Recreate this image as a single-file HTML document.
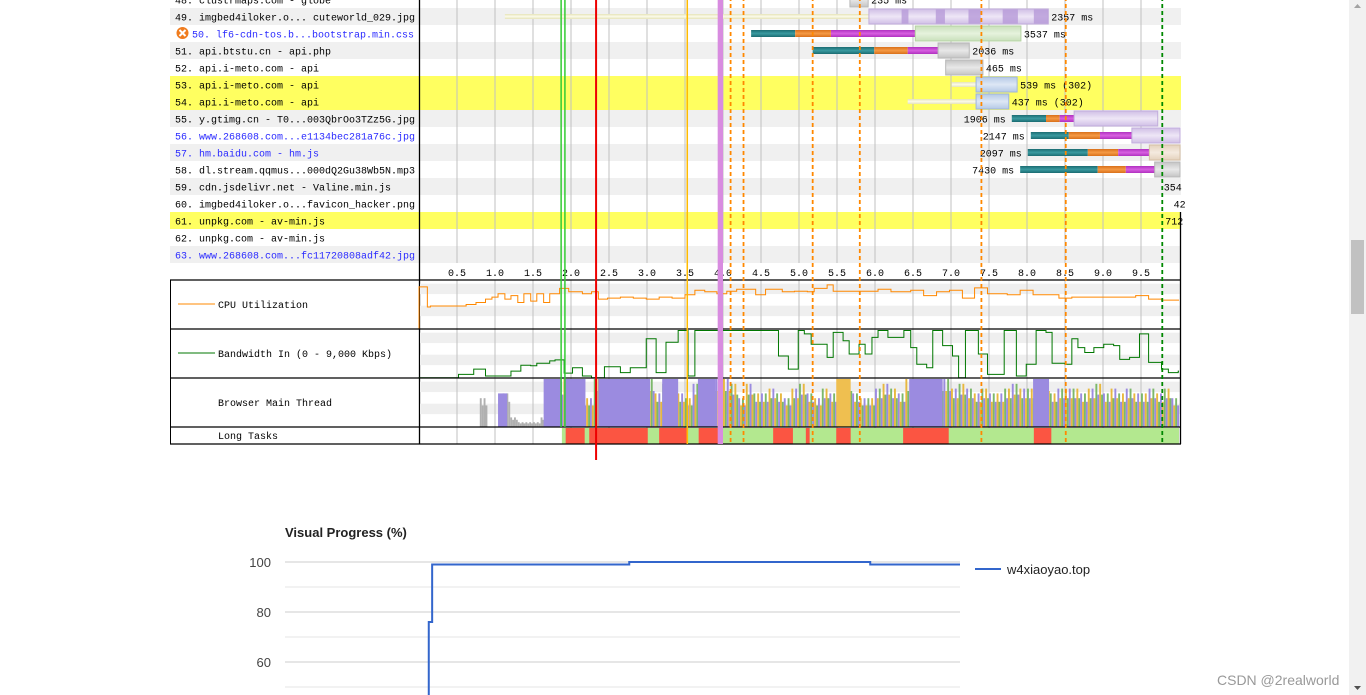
<!DOCTYPE html>
<html><head><meta charset="utf-8">
<style>
html,body{margin:0;padding:0;width:1366px;height:695px;overflow:hidden;background:#fff;}
svg{display:block;}
.wf{font-family:"Liberation Mono",monospace;font-size:10px;}
</style></head>
<body>
<svg id="root" width="1366" height="695" viewBox="0 0 1366 695">
  <g id="wf" class="wf"></g>
  <g id="vp"></g>
  <g>
    <rect x="1349" y="0" width="17" height="695" fill="#f1f1f1"/>
    <rect x="1351" y="240" width="13" height="74" fill="#c1c1c1"/>
    <path d="M1354 8 L1357.5 4 L1361 8 Z" fill="#a3a3a3"/>
    <path d="M1354 686 L1357.5 690 L1361 686 Z" fill="#505050"/>
  </g>
  <text x="1217" y="685" font-family="Liberation Sans, sans-serif" font-size="14" fill="#999">CSDN @2realworld</text>
</svg>
<script>
// ---------- waterfall data ----------
const reqLabels = ["48. clustrmaps.com - globe","49. imgbed4iloker.o... cuteworld_029.jpg","50. lf6-cdn-tos.b...bootstrap.min.css","51. api.btstu.cn - api.php","52. api.i-meto.com - api","53. api.i-meto.com - api","54. api.i-meto.com - api","55. y.gtimg.cn - T0...003QbrOo3TZz5G.jpg","56. www.268608.com...e1134bec281a76c.jpg","57. hm.baidu.com - hm.js","58. dl.stream.qqmus...000dQ2Gu38Wb5N.mp3","59. cdn.jsdelivr.net - Valine.min.js","60. imgbed4iloker.o...favicon_hacker.png","61. unpkg.com - av-min.js","62. unpkg.com - av-min.js","63. www.268608.com...fc11720808adf42.jpg"];
const reqBlue = [0,0,1,0,0,0,0,0,1,1,0,0,0,0,0,1];
const reqYellow = [0,0,0,0,0,1,1,0,0,0,0,0,0,1,0,0];
const reqWait = [null,[1.13,5.92],null,null,null,[7.01,7.33],[6.43,7.33],null,null,null,null,null,null,null,null,null];
const reqDns = [null,null,[4.37,4.95],[5.18,5.99],null,null,null,[7.80,8.25],[8.05,8.55],[8.01,8.80],[7.91,8.93],null,null,null,null,null];
const reqConn = [null,null,[4.95,5.42],[5.99,6.43],null,null,null,[8.25,8.43],[8.55,8.96],[8.80,9.20],[8.93,9.30],null,null,null,null,null];
const reqSsl = [null,null,[5.42,6.53],[6.43,6.83],null,null,null,[8.43,8.62],[8.96,9.38],[9.20,9.61],[9.30,9.68],null,null,null,null,null];
const reqContent = [[5.67,5.91],[5.92,8.28],[6.53,7.92],[6.83,7.24],[6.93,7.42],[7.33,7.87],[7.33,7.76],[8.62,9.72],[9.38,10.2],[9.61,10.2],[9.68,10.2],null,null,null,null,null];
const reqKind = ["gray","purple","green","gray","gray","blue","blue","purple","purple","beige","gray","","","","",""];
const reqMs = ["235 ms","2357 ms","3537 ms","2036 ms","465 ms","539 ms (302)","437 ms (302)","1906 ms","2147 ms","2097 ms","7430 ms","354","42","712","",""];
const reqMsSide = ["r","r","r","r","r","r","r","l","l","l","l","r","r","r","",""];
const reqMsAt = [5.91,8.28,7.92,7.24,7.42,7.87,7.76,7.80,8.05,8.01,7.91,9.76,9.89,9.78,0,0];
const chunks49 = [[6.35,6.44],[6.80,6.92],[7.23,7.39],[7.68,7.88],[8.09,8.28]];
const axisTicks = ["0.5","1.0","1.5","2.0","2.5","3.0","3.5","4.0","4.5","5.0","5.5","6.0","6.5","7.0","7.5","8.0","8.5","9.0","9.5"];
const markSolid = [[1.87,"#3c3"],[1.92,"#3c3"],[3.53,"#fb0"]];
const markDashed = [[4.10,"#f80"],[4.27,"#f80"],[5.18,"#f80"],[5.80,"#f80"],[7.40,"#f80"],[8.51,"#f80"],[9.78,"#080"]];
const markStartRender = 2.33;
const domLoading = [3.93,4.0];
const cpuT = [0,0.11,0.15,0.35,0.62,0.75,0.875,0.96,1.04,1.13,1.21,1.30,1.38,1.47,1.55,1.64,1.72,1.85,1.97,2.15,2.27,2.36,2.48,2.65,2.82,2.99,3.16,3.33,3.50,3.63,3.76,3.92,4.05,4.18,4.43,4.56,4.78,4.94,5.11,5.20,5.37,5.45,6.04,6.21,6.47,6.64,6.81,6.98,7.15,7.31,7.48,7.74,7.91,8.08,8.42,8.59,8.93,9.43,9.60,9.77,9.93];
const cpuV = [86,45,47,47,50,54,61,65,72,61,68,54,72,57,72,54,72,83,76,72,76,61,63,65,63,61,65,63,70,79,76,72,77,81,70,81,76,77,76,83,90,77,81,76,79,68,76,79,63,84,72,70,79,70,63,65,65,68,61,59,59];
const bwT = [0,0.52,0.72,0.875,1.04,1.21,1.34,1.47,1.55,1.72,1.79,1.91,2.02,2.15,2.27,2.44,2.65,2.78,2.99,3.12,3.25,3.41,3.54,3.63,4.73,4.86,4.99,5.07,5.16,5.37,5.45,5.58,5.66,5.79,5.87,5.96,6.04,6.17,6.38,6.47,6.55,6.68,6.76,6.89,7.02,7.10,7.19,7.36,7.48,7.70,7.86,7.99,8.12,8.25,8.33,8.50,8.59,8.67,8.76,8.88,9.01,9.14,9.22,9.35,9.48,9.60,9.77,9.86,9.99];
const bwV = [0.6,7.5,18,4,4,14,26,25,30,35,37,10,21,4,0.6,23,11,21,80,11,73,97,4,97,45,18,97,90,69,42,93,76,49,69,49,83,97,83,97,62,28,21,97,66,45,0.6,97,49,7.5,97,4,28,97,93,30,28,80,62,52,62,69,66,38,42,90,32,18,11,14];
const mtLevel = [0,0,0,0,0,0,0,0,60,0,0,70,20,10,10,10,20,50,90,100,100,60,60,100,100,100,100,100,100,100,100,70,90,90,70,60,90,100,100,100,100,90,60,90,70,70,80,70,60,80,90,70,60,80,70,100,100,70,60,60,80,90,80,70,100,100,100,100,100,100,80,90,80,70,80,70,70,80,90,80,80,100,100,70,80,80,80,70,80,90,70,80,70,80,70,70,80,70,80,60];
const mtScript = [[1.04,1.16,70],[1.64,1.88,100],[1.91,2.19,100],[2.36,3.04,100],[3.20,3.41,100],[3.67,3.90,100],[6.47,6.89,100],[8.08,8.29,100]];
const mtLayout = [[5.49,5.68,100]];
const longTaskSpan = [1.88,10];
const longTasks = [[1.93,2.18],[2.24,3.01],[3.16,3.54],[3.68,3.97],[4.66,4.92],[5.09,5.14],[5.49,5.68],[6.37,6.97],[8.09,8.32]];
const vpT = [0,2.13,2.13,2.18,2.18,5.1,5.1,8.67,8.67,10];
const vpV = [0,0,76,76,99,99,100,100,99,99];
const vpTicks = [100,90,80,70,60,50];
const vpTickLabels = ["100","","80","","60",""];

const NS = "http://www.w3.org/2000/svg";
function el(tag, attrs, parent, text){const e=document.createElementNS(NS,tag);for(const k in attrs)e.setAttribute(k,attrs[k]);if(text!==undefined)e.textContent=text;parent.appendChild(e);return e;}
const X = t => 419 + 76*t;
const rowTop = i => -9 + 17*i;
const wf = document.getElementById('wf');

const defs = el('defs',{},wf);
function grad(id,c1,c2){const g=el('linearGradient',{id:id,x1:0,y1:0,x2:0,y2:1},defs);el('stop',{offset:'0',"stop-color":c1},g);el('stop',{offset:'0.5',"stop-color":c2},g);el('stop',{offset:'1',"stop-color":c1},g);}
grad('gTeal','#1b6c72','#3a9aa0');grad('gOrange','#d9701a','#f59a45');grad('gMag','#b030c0','#d860e0');
grad('gGray','#c4c4c4','#e8e8e8');grad('gPurple','#d0bfe6','#eee6f6');grad('gGreen','#c9e0bb','#e6f2dd');
grad('gBlue','#b5c9e6','#dde7f5');grad('gBeige','#e4d2bd','#f4eadf');grad('gWait','#e6e3b8','#fbfaea');
const contentFill={gray:'url(#gGray)',purple:'url(#gPurple)',green:'url(#gGreen)',blue:'url(#gBlue)',beige:'url(#gBeige)'};
const contentStroke={gray:'#b8b8b8',purple:'#c2addc',green:'#b5d3a3',blue:'#9fb6da',beige:'#d6c0a6'};

reqLabels.forEach((lab,i)=>{
  const y=rowTop(i);
  const bg = reqYellow[i] ? '#ffff60' : (i%2===1 ? '#f0f0f0' : '#ffffff');
  const r=el('rect',{x:170,y:y,width:1011,height:17,fill:bg},wf);
  
  
});
axisTicks.forEach((lab,k)=>{
  const x=X(0.5*(k+1));
  el('line',{x1:x,y1:-10,x2:x,y2:263,stroke:'#c0c0c0','stroke-width':1},wf);
  const t=el('text',{x:x,y:276,'text-anchor':'middle',fill:'#000'},wf,lab);
  
  
});
reqLabels.forEach((lab,i)=>{
  const y=rowTop(i)+12.5;
  const tx = (i===2)?192:175;
  const t=el('text',{x:tx,y:y,fill:reqBlue[i]?'#2a2aff':'#000'},wf,lab);
  
  
  const avail=415-tx;
  if(t.getComputedTextLength()>avail){t.setAttribute('textLength',avail);t.setAttribute('lengthAdjust','spacingAndGlyphs');}
});
const ic=el('g',{},wf);


el('circle',{cx:182.5,cy:33,r:6,fill:'#f07c1e'},ic);
el('path',{d:'M179.5 30 L185.5 36 M185.5 30 L179.5 36',stroke:'#fff','stroke-width':2},ic);
el('line',{x1:419.5,y1:-10,x2:419.5,y2:444,stroke:'#000','stroke-width':1.3},wf);

reqLabels.forEach((lab,i)=>{
  const cy=rowTop(i)+8.5;
  const g=el('g',{},wf);
  
  
  if(reqWait[i]) el('rect',{x:X(reqWait[i][0]),y:cy-2.5,width:X(reqWait[i][1])-X(reqWait[i][0]),height:5,fill:'url(#gWait)'},g);
  [[reqDns,'url(#gTeal)'],[reqConn,'url(#gOrange)'],[reqSsl,'url(#gMag)']].forEach(([arr,f])=>{
    if(arr[i]) el('rect',{x:X(arr[i][0]),y:cy-3.5,width:X(arr[i][1])-X(arr[i][0]),height:7,fill:f},g);
  });
  if(reqContent[i]){
    const x0=X(reqContent[i][0]), x1=Math.min(X(reqContent[i][1]),1180);
    el('rect',{x:x0,y:cy-7.5,width:x1-x0,height:15,fill:contentFill[reqKind[i]],stroke:contentStroke[reqKind[i]],'stroke-width':1},g);
    if(i===1) chunks49.forEach(c=>el('rect',{x:X(c[0]),y:cy-7,width:X(c[1])-X(c[0]),height:14,fill:'#b79ad8',opacity:0.8},g));
  }
  if(reqMs[i]){
    const side=reqMsSide[i];
    el('text',{x:side==='r'?X(reqMsAt[i])+3:X(reqMsAt[i])-6,y:cy+4,'text-anchor':side==='r'?'start':'end',fill:'#000'},g,reqMs[i]);
  }
});

[[280,329],[329,378],[378,427]].forEach(([a,b])=>{
  const h=(b-a)/4;
  el('rect',{x:420,y:a+h*0.3,width:760,height:h*0.85,fill:'#efefef'},wf);
  el('rect',{x:420,y:a+h*2.1,width:760,height:h*0.85,fill:'#efefef'},wf);
});
axisTicks.forEach((lab,k)=>{const x=X(0.5*(k+1));el('line',{x1:x,y1:280,x2:x,y2:444,stroke:'#c0c0c0','stroke-width':1},wf);});

function stepPath(T,V,y0,h){let d='';T.forEach((t,k)=>{const x=X(Math.min(t,10));const y=y0-V[k]/100*h;if(k===0)d+='M'+X(0)+' '+y0+' L'+x+' '+y;else d+=' L'+x+' '+(y0-V[k-1]/100*h)+' L'+x+' '+y;});d+=' L'+X(10)+' '+(y0-V[V.length-1]/100*h);return d;}
const cpu=el('path',{d:stepPath(cpuT,cpuV,329,49),fill:'none',stroke:'#f80','stroke-width':1},wf);


const bw=el('path',{d:stepPath(bwT,bwV,378,49),fill:'none',stroke:'#070','stroke-width':1},wf);


el('line',{x1:178,y1:304,x2:215,y2:304,stroke:'#f80','stroke-width':1},wf);
const l1=el('text',{x:218,y:308},wf,'CPU Utilization');


el('line',{x1:178,y1:353,x2:215,y2:353,stroke:'#070','stroke-width':1},wf);
const l2=el('text',{x:218,y:357},wf,'Bandwidth In (0 - 9,000 Kbps)');


const l3=el('text',{x:218,y:406},wf,'Browser Main Thread');


const l4=el('text',{x:218,y:439},wf,'Long Tasks');



const mt=el('g',{},wf);


const mcol=['#9b8be0','#e8b840','#7cb86a','#b0b0b0'];
mtLevel.forEach((lv,k)=>{
  if(!lv) return;
  for(let s=0;s<4;s++){
    const t=k*0.1+s*0.025;
    const h=lv/100*48*(s%2?0.75:1);
    const c = k<17 ? '#b0b0b0' : mcol[(k+s)%3];
    el('rect',{x:X(t),y:427-h,width:76*0.025,height:h,fill:c},mt);
  }
});
mtScript.forEach(s=>el('rect',{x:X(s[0]),y:427-s[2]/100*48,width:X(s[1])-X(s[0]),height:s[2]/100*48,fill:'#9b8be0'},mt));
mtLayout.forEach(s=>el('rect',{x:X(s[0]),y:427-s[2]/100*48,width:X(s[1])-X(s[0]),height:s[2]/100*48,fill:'#efbf50'},mt));
const lt=el('g',{},wf);


el('rect',{x:X(longTaskSpan[0]),y:428,width:X(longTaskSpan[1])-X(longTaskSpan[0]),height:16,fill:'#b3e88f'},lt);
longTasks.forEach(s=>el('rect',{x:X(s[0]),y:428,width:X(s[1])-X(s[0]),height:16,fill:'#fb5542'},lt));

[280,329,378,427,444].forEach(y=>el('line',{x1:170,y1:y,x2:1181,y2:y,stroke:'#000','stroke-width':1.3},wf));
el('line',{x1:170.5,y1:280,x2:170.5,y2:444,stroke:'#000','stroke-width':1},wf);
el('line',{x1:1180.5,y1:212,x2:1180.5,y2:444,stroke:'#000','stroke-width':1.3},wf);

el('rect',{x:X(domLoading[0]),y:-10,width:X(domLoading[1])-X(domLoading[0]),height:454,fill:'#d88ce0'},wf);
markSolid.forEach(m=>{const l=el('line',{x1:X(m[0]),y1:-10,x2:X(m[0]),y2:m[1]==='#3c3'?427:444,stroke:m[1],'stroke-width':1.5},wf);});
markDashed.forEach(m=>{const l=el('line',{x1:X(m[0]),y1:-10,x2:X(m[0]),y2:444,stroke:m[1],'stroke-width':1.8,'stroke-dasharray':'4,3'},wf);});
const sr=el('line',{x1:X(markStartRender),y1:-10,x2:X(markStartRender),y2:460,stroke:'#e00','stroke-width':2},wf);



// ---------- Visual progress ----------
const vp=document.getElementById('vp');
const VX=t=>285+67.5*t;
const vy=v=>562+(100-v)*2.5;
const tt=el('text',{x:285,y:537,'font-family':'Liberation Sans, sans-serif','font-size':13,'font-weight':'bold',fill:'#222'},vp,'Visual Progress (%)');


vpTicks.forEach((v,k)=>{
  el('line',{x1:285,y1:vy(v),x2:960,y2:vy(v),stroke:k%2?'#e6e6e6':'#cccccc','stroke-width':1},vp);
  if(vpTickLabels[k]){const t=el('text',{x:271,y:vy(v)+5,'text-anchor':'end','font-family':'Liberation Sans, sans-serif','font-size':13,fill:'#444'},vp,vpTickLabels[k]);
  
  }
});
let d='';vpT.forEach((t,k)=>{d+=(k?' L':'M')+VX(t)+' '+vy(vpV[k]);});
const vl=el('path',{d:d,fill:'none',stroke:'#3366cc','stroke-width':2},vp);


const lg=el('g',{},vp);


el('line',{x1:975,y1:569,x2:1001,y2:569,stroke:'#3366cc','stroke-width':2},lg);
el('text',{x:1007,y:574,'font-family':'Liberation Sans, sans-serif','font-size':13,fill:'#222'},lg,'w4xiaoyao.top');
</script>
</body></html>
